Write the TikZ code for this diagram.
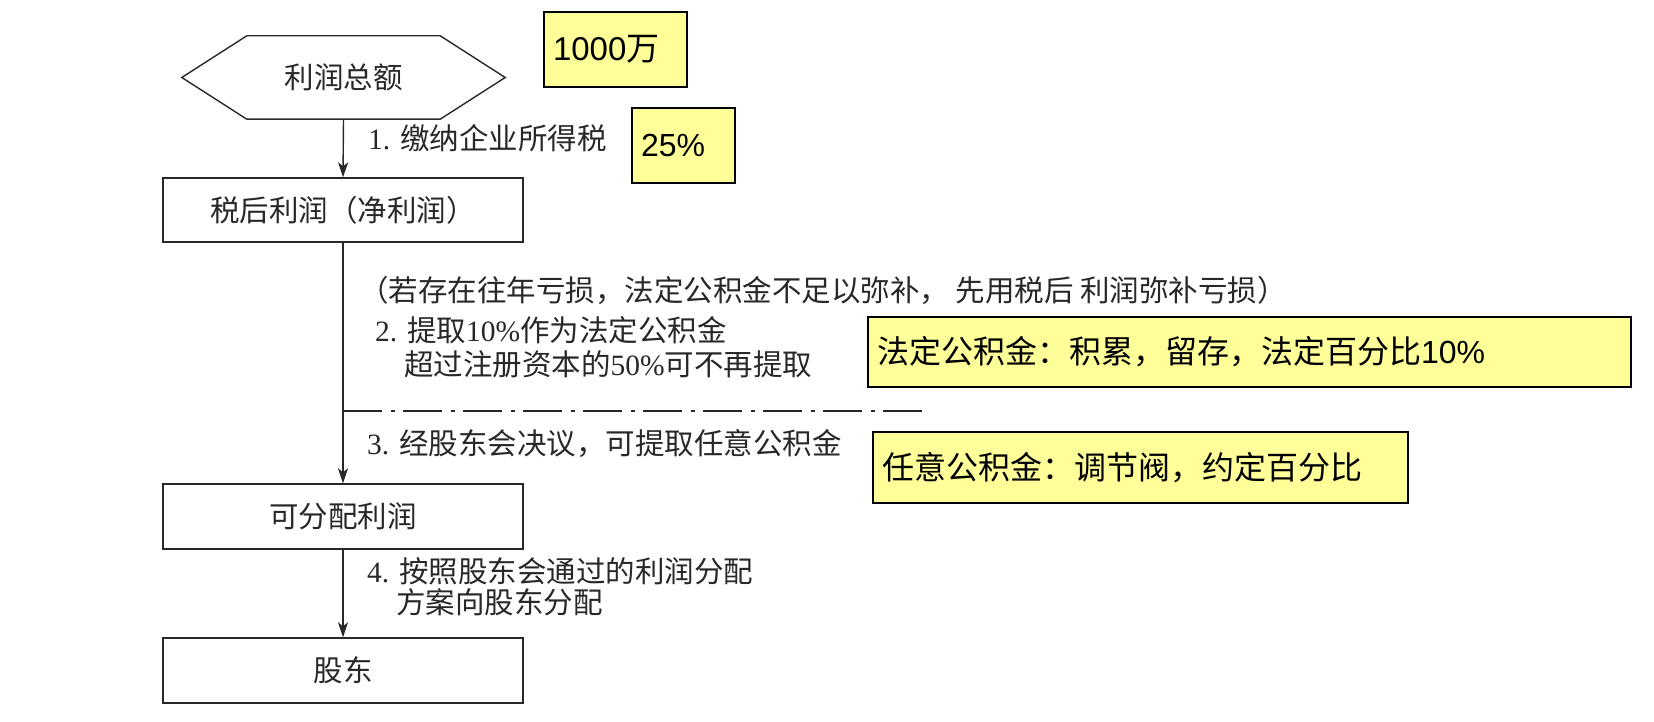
\documentclass[tikz,border=0pt]{standalone}
\usepackage{fontspec}
\setmainfont{Liberation Serif}
\newfontfamily\cjk{Noto Sans CJK SC}
\newfontfamily\hv{Liberation Sans}
\usetikzlibrary{arrows.meta}
\definecolor{note}{RGB}{255,255,153}
\definecolor{ink}{RGB}{40,40,40}
\tikzset{
  flowbox/.style={draw=ink, line width=1.4pt, minimum width=360pt, minimum height=64pt, inner sep=0pt, text=ink, font=\fontsize{29.5}{35}\selectfont\cjk},
  hexlabel/.style={minimum width=323pt, minimum height=83pt, inner sep=0pt, text=ink, font=\fontsize{29.5}{35}\selectfont\cjk},
  steplabel/.style={anchor=west, inner sep=0pt, text=ink, font=\fontsize{29.5}{35}\selectfont},
  notebox/.style={draw=black, line width=1.3pt, fill=note, inner xsep=9pt, inner ysep=0pt, align=left, font=\fontsize{32}{37}\selectfont\cjk},
  arr/.style={draw=ink, line width=1.4pt, -{Stealth[length=15pt,width=10pt,inset=4pt]}},
  dashdotline/.style={draw=ink, line width=1.4pt, dash pattern=on 39pt off 9pt on 4pt off 8pt}
}
\begin{document}
\begin{tikzpicture}[x=1pt,y=-1pt]
\useasboundingbox (0,0) rectangle (1654,722);
% hexagon
\node[hexlabel] (h) at (343.5,77.5) {利润总额};
\draw[draw=ink, line width=1.4pt] (h.west) -- ([xshift=65pt]h.north west) -- ([xshift=-65pt]h.north east) -- (h.east) -- ([xshift=-65pt]h.south east) -- ([xshift=65pt]h.south west) -- cycle;
% flow boxes
\node[flowbox] (b1) at (343,210) {税后利润（净利润）};
\node[flowbox, minimum height=65pt] (b2) at (343,516.5) {可分配利润};
\node[flowbox, minimum height=65pt] (b3) at (343,670.5) {股东};
% arrows
\draw[arr] (h.south) -- (b1.north);
\draw[arr] (b1.south) -- (b2.north);
\draw[arr] (b2.south) -- (b3.north);
% dash-dot separator
\coordinate (dd) at (922,411);
\draw[dashdotline] (b1.south |- dd) -- (dd);
% step labels
\node[steplabel] (l1) at (368,138) {1. {\cjk 缴纳企业所得税}};
\node[steplabel] (l2) at (359,290) {\cjk （若存在往年亏损，法定公积金不足以弥补， 先用税后 利润弥补亏损）};
\node[steplabel] (l3) at (375,330) {2. {\cjk 提取}10\%{\cjk 作为法定公积金}};
\node[steplabel] (l4) at (404,364) {{\cjk 超过注册资本的}50\%{\cjk 可不再提取}};
\node[steplabel] (l5) at (367,444) {3. {\cjk 经股东会决议，可提取任意公积金}};
\node[steplabel] (l6) at (367,571) {4. {\cjk 按照股东会通过的利润分配}};
\node[steplabel] (l7) at (396,602) {\cjk 方案向股东分配};
% yellow notes
\node[notebox, text width=125pt, minimum height=75pt, font=\fontsize{33}{38}\selectfont\cjk] (n1) at (615.5,49.5) {{\hv 1000}万};
\node[notebox, text width=85pt, minimum height=75pt] (n2) at (683.5,145.5) {{\hv 25\%}};
\node[notebox, text width=745pt, minimum height=70pt] (n3) at (1249.5,352) {法定公积金：积累，留存，法定百分比{\hv 10\%}};
\node[notebox, text width=517pt, minimum height=71pt] (n4) at (1140.5,467.5) {任意公积金：调节阀，约定百分比};
\end{tikzpicture}
\end{document}
